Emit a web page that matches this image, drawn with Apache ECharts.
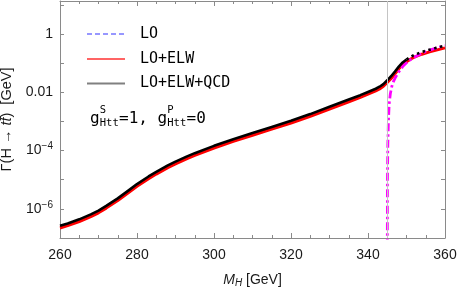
<!DOCTYPE html>
<html>
<head>
<meta charset="utf-8">
<script src="https://cdn.jsdelivr.net/npm/echarts@6/dist/echarts.min.js"></script>
<style>
html,body{margin:0;padding:0;background:#fff;}
#chart{width:458px;height:289px;}
</style>
</head>
<body>
<div id="chart"></div>
<script>
// ---- data ----
const massGrid = [260,262,265,268,270,272,275,278,280,283,285,288,290,293,295,300,305,310,315,320,325,330,335,338,340,342,343,344,345,346,347,348,349,350,351,352,354,356,358,360];
const widthLOELWQCD = [2.63e-7,3.16e-7,4.37e-7,6.46e-7,8.71e-7,1.26e-6,2.29e-6,4.47e-6,7.08e-6,1.29e-5,1.86e-5,3.09e-5,4.17e-5,6.31e-5,8.13e-5,1.45e-4,2.45e-4,3.98e-4,6.46e-4,1.05e-3,1.78e-3,3.16e-3,5.62e-3,7.94e-3,1.02e-2,1.32e-2,1.55e-2,1.91e-2,2.57e-2,3.55e-2,5.13e-2,7.59e-2,0.105,0.132,0.162,0.191,0.240,0.288,0.339,0.398];
const widthLOELW = [2.21e-7,2.65e-7,3.67e-7,5.43e-7,7.32e-7,1.06e-6,1.92e-6,3.75e-6,5.95e-6,1.08e-5,1.56e-5,2.60e-5,3.50e-5,5.30e-5,6.83e-5,1.22e-4,2.06e-4,3.34e-4,5.43e-4,8.82e-4,1.50e-3,2.65e-3,4.72e-3,6.67e-3,8.57e-3,1.11e-2,1.30e-2,1.60e-2,2.16e-2,2.98e-2,4.31e-2,6.38e-2,8.82e-2,0.111,0.136,0.160,0.202,0.242,0.285,0.334];
const widthLO = [2.21e-7,2.65e-7,3.67e-7,5.43e-7,7.32e-7,1.06e-6,1.92e-6,3.75e-6,5.95e-6,1.08e-5,1.56e-5,2.60e-5,3.50e-5,5.30e-5,6.83e-5,1.22e-4,2.06e-4,3.34e-4,5.43e-4,8.82e-4,1.50e-3,2.65e-3,4.72e-3,6.67e-3,8.57e-3,1.11e-2,1.30e-2,1.60e-2,2.16e-2,2.98e-2,4.31e-2,6.38e-2,8.82e-2,0.111,0.136,0.160,0.202,0.242,0.285,0.334];
const massOnShell = [345.0,345.05,345.15,345.3,345.5,345.8,346.2,346.6,347.0,347.5,348.0,349.0,350.5,352.5,355.0,357.5,360.0];
const widthOnShell = [1e-9,1e-5,1.6e-4,1.0e-3,4.0e-3,8.9e-3,1.6e-2,2.3e-2,3.0e-2,3.9e-2,5.0e-2,7.6e-2,0.118,0.172,0.250,0.324,0.398];
const qcdDottedFrom = 350;
const thresholdMass = 345;
const xMin = 260, xMax = 360, xStep = 20;
const yMin = 1e-7, yMax = 13.5;
const legendNames = ['LO','LO+ELW','LO+ELW+QCD'];

// ---- build ----
const zip = (xs, ys) => xs.map((x, i) => [x, ys[i]]);
const qcdAll = zip(massGrid, widthLOELWQCD);
const qcdSolid = qcdAll.filter(p => p[0] <= qcdDottedFrom);
const qcdDotted = qcdAll.filter(p => p[0] >= qcdDottedFrom);

const axisGray = '#8a8a8a';
const labelFont = "'Liberation Sans', Arial, sans-serif";
const mono = "'DejaVu Sans Mono', monospace";

function yLabel(v) {
  const e = Math.round(Math.log10(v));
  if (Math.abs(Math.log10(v) - e) > 1e-6) return '';
  if (e > 0 || e % 2 !== 0) return '';
  if (e === 0) return '1';
  if (e === -2) return '0.01';
  return '10{sup|\u2212' + (-e) + '}';
}

const chart = echarts.init(document.getElementById('chart'), null, {renderer: 'canvas'});
const baseX = {
  type: 'value', min: xMin, max: xMax, interval: xStep,
  axisLine: {show: true, lineStyle: {color: axisGray, width: 1}},
  axisTick: {show: true, inside: true, length: 5, lineStyle: {color: axisGray}},
  minorTick: {show: true, splitNumber: 4, length: 3, lineStyle: {color: axisGray}},
  splitLine: {show: false}
};
const baseY = {
  type: 'log', logBase: 10, min: yMin, max: yMax, splitNumber: 8,
  axisLine: {show: true, lineStyle: {color: axisGray, width: 1}},
  axisTick: {show: true, inside: true, length: 4, lineStyle: {color: axisGray}},
  minorTick: {show: false},
  splitLine: {show: false}
};

// legend drawn as graphic (line sample + text)
const legendRows = [
  {name: legendNames[0], color: '#3030ff', width: 1.1, dash: [5, 3], y: 34},
  {name: legendNames[1], color: '#ff3030', width: 1.5, dash: null, y: 59},
  {name: legendNames[2], color: '#808080', width: 2, dash: null, y: 83.5}
];
const legendGraphics = [];
legendRows.forEach(r => {
  legendGraphics.push({
    type: 'line', shape: {x1: 87, y1: r.y, x2: 125, y2: r.y}, silent: true,
    style: {stroke: r.color, lineWidth: r.width, lineDash: r.dash || null}
  });
  legendGraphics.push({
    type: 'text', x: 140, y: r.y, silent: true,
    style: {text: r.name, font: '15px ' + mono, fill: '#000', textVerticalAlign: 'middle', verticalAlign: 'middle'}
  });
});

const annot = [
  {t: 'g', x: 90, y: 119, s: 16},
  {t: 'S', x: 99.8, y: 110.5, s: 10.5},
  {t: 'Htt', x: 99.8, y: 123.5, s: 10.5},
  {t: '=1,', x: 119.0, y: 119, s: 16},
  {t: 'g', x: 157.5, y: 119, s: 16},
  {t: 'P', x: 167.3, y: 110.5, s: 10.5},
  {t: 'Htt', x: 167.3, y: 123.5, s: 10.5},
  {t: '=0', x: 186.5, y: 119, s: 16}
];
const annotGraphics = annot.map(a => ({
  type: 'text', x: a.x, y: a.y, silent: true,
  style: {text: a.t, font: a.s + 'px ' + mono, fill: '#000', textVerticalAlign: 'middle', verticalAlign: 'middle'}
}));

const option = {
  animation: false,
  backgroundColor: '#fff',
  grid: {left: 60, right: 13, top: 1, bottom: 51, containLabel: false, outerBoundsMode: 'none'},
  xAxis: [
    Object.assign({}, baseX, {
      position: 'bottom',
      axisLabel: {show: true, color: '#1a1a1a', fontSize: 14, fontFamily: labelFont, margin: 10},
      name: '{i|M}{s|H} [GeV]', nameLocation: 'middle', nameGap: 34,
      nameTextStyle: {
        color: '#1a1a1a', fontSize: 14, fontFamily: labelFont,
        rich: {
          i: {fontStyle: 'italic', fontSize: 14, fontFamily: labelFont, color: '#1a1a1a'},
          s: {fontStyle: 'italic', fontSize: 10, fontFamily: labelFont, color: '#1a1a1a', padding: [6, 0, 0, 0]}
        }
      }
    }),
    Object.assign({}, baseX, {position: 'top', axisLabel: {show: false}})
  ],
  yAxis: [
    Object.assign({}, baseY, {
      position: 'left',
      axisLabel: {
        show: true, color: '#1a1a1a', fontSize: 14, fontFamily: labelFont, margin: 7,
        formatter: yLabel,
        rich: {sup: {fontSize: 10, fontFamily: labelFont, color: '#1a1a1a', padding: [0, 0, 8, 0]}}
      },
      name: '\u0393(H \u2192 {i|tt\u0304})  [GeV]', nameLocation: 'middle', nameRotate: 90, nameGap: 42,
      nameTextStyle: {
        color: '#1a1a1a', fontSize: 14.5, fontFamily: labelFont,
        rich: {i: {fontStyle: 'italic', fontSize: 14.5, fontFamily: labelFont, color: '#1a1a1a'}}
      }
    }),
    Object.assign({}, baseY, {position: 'right', axisLabel: {show: false}})
  ],
  graphic: legendGraphics.concat(annotGraphics),
  series: [
    {
      name: legendNames[0], type: 'line', data: zip(massGrid, widthLO), z: 1,
      symbol: 'none', showSymbol: false, smooth: false, clip: true,
      lineStyle: {color: '#3333ff', width: 1, type: [5, 3]},
      itemStyle: {color: '#3333ff'},
      markLine: {
        silent: true, symbol: ['none', 'none'], label: {show: false},
        lineStyle: {color: '#c4c4c4', width: 1, type: 'solid'},
        data: [{xAxis: thresholdMass}]
      }
    },
    {
      name: legendNames[1], type: 'line', data: zip(massGrid, widthLOELW), z: 2,
      symbol: 'none', showSymbol: false, smooth: false, clip: true,
      lineStyle: {color: '#ff0000', width: 3, join: 'round'},
      itemStyle: {color: '#ff0000'}
    },
    {
      name: 'onshell', type: 'line', data: zip(massOnShell, widthOnShell), z: 3,
      symbol: 'none', showSymbol: false, smooth: false, clip: true,
      lineStyle: {color: '#ff00ff', width: 2.8, type: [8, 3, 2.5, 3]},
      itemStyle: {color: '#ff00ff'}
    },
    {
      name: legendNames[2], type: 'line', data: qcdSolid, z: 4,
      symbol: 'none', showSymbol: false, smooth: false, clip: true,
      lineStyle: {color: '#000000', width: 2.6, join: 'round'},
      itemStyle: {color: '#000'}
    },
    {
      name: 'qcdDotted', type: 'line', data: qcdDotted, z: 5,
      symbol: 'none', showSymbol: false, smooth: false, clip: true,
      lineStyle: {color: '#000000', width: 2.6, type: [2.5, 3.5]},
      itemStyle: {color: '#000'}
    }
  ]
};
chart.setOption(option);
</script>
</body>
</html>
